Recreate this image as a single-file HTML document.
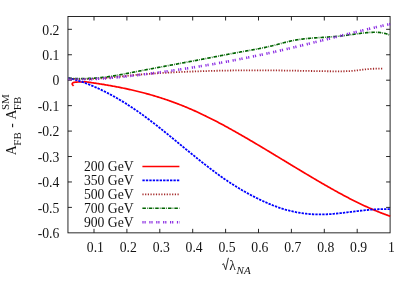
<!DOCTYPE html>
<html><head><meta charset="utf-8"><style>
html,body{margin:0;padding:0;background:#fff;overflow:hidden;}
text{opacity:0.92;}
svg{display:block;will-change:transform;font-family:"Liberation Serif",serif;font-size:13.7px;fill:#000;}
</style></head><body>
<svg xmlns="http://www.w3.org/2000/svg" width="415" height="291" viewBox="0 0 415 291">
<rect width="415" height="291" fill="#fff"/>
<rect x="67.95" y="16.5" width="322.15000000000003" height="216.35" fill="none" stroke="#111" stroke-width="0.9"/>
<path d="M94.00,232.85 v-4 M94.00,16.5 v4 M126.90,232.85 v-4 M126.90,16.5 v4 M159.80,232.85 v-4 M159.80,16.5 v4 M192.70,232.85 v-4 M192.70,16.5 v4 M225.60,232.85 v-4 M225.60,16.5 v4 M258.50,232.85 v-4 M258.50,16.5 v4 M291.40,232.85 v-4 M291.40,16.5 v4 M324.30,232.85 v-4 M324.30,16.5 v4 M357.20,232.85 v-4 M357.20,16.5 v4 M67.95,207.40 h4 M390.1,207.40 h-4 M67.95,181.96 h4 M390.1,181.96 h-4 M67.95,156.52 h4 M390.1,156.52 h-4 M67.95,131.08 h4 M390.1,131.08 h-4 M67.95,105.64 h4 M390.1,105.64 h-4 M67.95,80.20 h4 M390.1,80.20 h-4 M67.95,54.76 h4 M390.1,54.76 h-4 M67.95,29.32 h4 M390.1,29.32 h-4" stroke="#111" stroke-width="0.9" fill="none"/>
<text x="59.4" y="238.04" text-anchor="end">-0.6</text>
<text x="59.4" y="212.60" text-anchor="end">-0.5</text>
<text x="59.4" y="187.16" text-anchor="end">-0.4</text>
<text x="59.4" y="161.72" text-anchor="end">-0.3</text>
<text x="59.4" y="136.28" text-anchor="end">-0.2</text>
<text x="59.4" y="110.84" text-anchor="end">-0.1</text>
<text x="59.4" y="85.40" text-anchor="end">0</text>
<text x="59.4" y="59.96" text-anchor="end">0.1</text>
<text x="59.4" y="34.52" text-anchor="end">0.2</text>
<text x="95.40" y="251.6" text-anchor="middle">0.1</text>
<text x="128.30" y="251.6" text-anchor="middle">0.2</text>
<text x="161.20" y="251.6" text-anchor="middle">0.3</text>
<text x="194.10" y="251.6" text-anchor="middle">0.4</text>
<text x="227.00" y="251.6" text-anchor="middle">0.5</text>
<text x="259.90" y="251.6" text-anchor="middle">0.6</text>
<text x="292.80" y="251.6" text-anchor="middle">0.7</text>
<text x="325.70" y="251.6" text-anchor="middle">0.8</text>
<text x="358.60" y="251.6" text-anchor="middle">0.9</text>
<text x="391.50" y="251.6" text-anchor="middle">1</text>
<path d="M73.60,85.90 L73.39,85.65 L73.11,85.36 L72.79,85.03 L72.50,84.67 L72.28,84.29 L72.20,83.90 L72.28,83.52 L72.51,83.17 L72.83,82.88 L73.19,82.67 L73.58,82.53 L73.97,82.43 L74.38,82.35 L74.78,82.28 L75.19,82.21 L75.59,82.16 L76.00,82.12 L76.41,82.08 L76.82,82.05 L77.22,82.03 L77.63,82.01 L78.04,82.00 L78.45,81.99 L78.87,81.99 L79.28,81.98 L79.69,81.98 L80.10,81.99 L80.51,81.99 L80.92,81.99 L81.33,82.00 L81.74,82.00 L82.15,82.00 L82.56,82.00 L82.97,81.99 L83.38,81.98 L83.78,81.97 L84.19,81.95 L84.60,81.93 L85.00,81.76 L86.02,81.89 L87.04,82.03 L88.06,82.17 L89.08,82.31 L90.10,82.45 L91.12,82.60 L92.15,82.74 L93.17,82.89 L94.19,83.04 L95.21,83.19 L96.23,83.34 L97.25,83.49 L98.27,83.65 L99.29,83.81 L100.31,83.97 L101.33,84.13 L102.35,84.29 L103.37,84.46 L104.39,84.62 L105.41,84.79 L106.44,84.97 L107.46,85.14 L108.48,85.32 L109.50,85.49 L110.52,85.67 L111.54,85.86 L112.56,86.04 L113.58,86.23 L114.60,86.42 L115.62,86.61 L116.64,86.80 L117.66,87.00 L118.68,87.20 L119.71,87.40 L120.73,87.60 L121.75,87.81 L122.77,88.02 L123.79,88.23 L124.81,88.44 L125.83,88.66 L126.85,88.88 L127.87,89.10 L128.89,89.32 L129.91,89.55 L130.93,89.78 L131.95,90.01 L132.97,90.25 L134.00,90.48 L135.02,90.72 L136.04,90.97 L137.06,91.21 L138.08,91.46 L139.10,91.72 L140.12,91.97 L141.14,92.23 L142.16,92.49 L143.18,92.76 L144.20,93.03 L145.22,93.30 L146.24,93.57 L147.26,93.85 L148.29,94.13 L149.31,94.42 L150.33,94.71 L151.35,95.00 L152.37,95.29 L153.39,95.59 L154.41,95.90 L155.43,96.20 L156.45,96.51 L157.47,96.82 L158.49,97.14 L159.51,97.46 L160.53,97.79 L161.56,98.11 L162.58,98.45 L163.60,98.78 L164.62,99.12 L165.64,99.46 L166.66,99.81 L167.68,100.16 L168.70,100.52 L169.72,100.88 L170.74,101.24 L171.76,101.61 L172.78,101.98 L173.80,102.35 L174.82,102.73 L175.85,103.11 L176.87,103.49 L177.89,103.88 L178.91,104.28 L179.93,104.67 L180.95,105.08 L181.97,105.48 L182.99,105.89 L184.01,106.30 L185.03,106.72 L186.05,107.14 L187.07,107.57 L188.09,107.99 L189.12,108.43 L190.14,108.86 L191.16,109.31 L192.18,109.75 L193.20,110.20 L194.22,110.65 L195.24,111.11 L196.26,111.57 L197.28,112.03 L198.30,112.50 L199.32,112.98 L200.34,113.45 L201.36,113.93 L202.38,114.42 L203.41,114.91 L204.43,115.40 L205.45,115.89 L206.47,116.39 L207.49,116.90 L208.51,117.40 L209.53,117.91 L210.55,118.43 L211.57,118.94 L212.59,119.46 L213.61,119.98 L214.63,120.51 L215.65,121.04 L216.67,121.57 L217.70,122.11 L218.72,122.64 L219.74,123.18 L220.76,123.73 L221.78,124.27 L222.80,124.82 L223.82,125.37 L224.84,125.93 L225.86,126.48 L226.88,127.04 L227.90,127.60 L228.92,128.16 L229.94,128.73 L230.97,129.30 L231.99,129.87 L233.01,130.44 L234.03,131.01 L235.05,131.58 L236.07,132.16 L237.09,132.74 L238.11,133.32 L239.13,133.90 L240.15,134.49 L241.17,135.07 L242.19,135.66 L243.21,136.25 L244.23,136.83 L245.26,137.43 L246.28,138.02 L247.30,138.61 L248.32,139.21 L249.34,139.80 L250.36,140.40 L251.38,141.00 L252.40,141.60 L253.42,142.20 L254.44,142.81 L255.46,143.41 L256.48,144.01 L257.50,144.62 L258.53,145.23 L259.55,145.83 L260.57,146.44 L261.59,147.05 L262.61,147.66 L263.63,148.27 L264.65,148.88 L265.67,149.50 L266.69,150.11 L267.71,150.72 L268.73,151.34 L269.75,151.95 L270.77,152.57 L271.79,153.18 L272.82,153.80 L273.84,154.42 L274.86,155.03 L275.88,155.65 L276.90,156.27 L277.92,156.89 L278.94,157.50 L279.96,158.12 L280.98,158.74 L282.00,159.36 L283.02,159.98 L284.04,160.60 L285.06,161.21 L286.08,161.83 L287.11,162.45 L288.13,163.07 L289.15,163.69 L290.17,164.31 L291.19,164.92 L292.21,165.54 L293.23,166.16 L294.25,166.77 L295.27,167.39 L296.29,168.01 L297.31,168.62 L298.33,169.24 L299.35,169.85 L300.38,170.46 L301.40,171.08 L302.42,171.69 L303.44,172.30 L304.46,172.91 L305.48,173.52 L306.50,174.13 L307.52,174.74 L308.54,175.35 L309.56,175.96 L310.58,176.56 L311.60,177.17 L312.62,177.77 L313.64,178.37 L314.67,178.97 L315.69,179.58 L316.71,180.17 L317.73,180.77 L318.75,181.37 L319.77,181.96 L320.79,182.56 L321.81,183.15 L322.83,183.74 L323.85,184.33 L324.87,184.92 L325.89,185.51 L326.91,186.09 L327.94,186.67 L328.96,187.26 L329.98,187.83 L331.00,188.41 L332.02,188.99 L333.04,189.56 L334.06,190.13 L335.08,190.70 L336.10,191.27 L337.12,191.83 L338.14,192.39 L339.16,192.95 L340.18,193.51 L341.20,194.06 L342.23,194.61 L343.25,195.16 L344.27,195.70 L345.29,196.24 L346.31,196.78 L347.33,197.32 L348.35,197.85 L349.37,198.38 L350.39,198.91 L351.41,199.43 L352.43,199.95 L353.45,200.47 L354.47,200.98 L355.49,201.49 L356.52,202.00 L357.54,202.50 L358.56,203.00 L359.58,203.49 L360.60,203.98 L361.62,204.47 L362.64,204.95 L363.66,205.43 L364.68,205.90 L365.70,206.37 L366.72,206.84 L367.74,207.30 L368.76,207.75 L369.79,208.20 L370.81,208.65 L371.83,209.09 L372.85,209.53 L373.87,209.97 L374.89,210.39 L375.91,210.82 L376.93,211.24 L377.95,211.65 L378.97,212.06 L379.99,212.46 L381.01,212.86 L382.03,213.25 L383.05,213.64 L384.08,214.02 L385.10,214.39 L386.12,214.77 L387.14,215.13 L388.16,215.49 L389.18,215.84 L390.20,216.19" fill="none" stroke="#ff0000" stroke-width="1.7" stroke-linejoin="round"/>
<path d="M68.30,78.06 L69.11,78.23 L69.91,78.40 L70.72,78.58 L71.53,78.77 L72.33,78.97 L73.14,79.17 L73.95,79.39 L74.75,79.60 L75.56,79.83 L76.37,80.06 L77.17,80.30 L77.98,80.54 L78.79,80.79 L79.59,81.05 L80.40,81.31 L81.21,81.58 L82.02,81.86 L82.82,82.14 L83.63,82.42 L84.44,82.71 L85.24,83.01 L86.05,83.31 L86.86,83.62 L87.66,83.93 L88.47,84.25 L89.28,84.57 L90.08,84.90 L90.89,85.23 L91.70,85.57 L92.50,85.91 L93.31,86.25 L94.12,86.60 L94.92,86.95 L95.73,87.31 L96.54,87.67 L97.34,88.04 L98.15,88.41 L98.96,88.78 L99.76,89.16 L100.57,89.54 L101.38,89.93 L102.18,90.32 L102.99,90.71 L103.80,91.11 L104.60,91.51 L105.41,91.92 L106.22,92.33 L107.02,92.74 L107.83,93.16 L108.64,93.58 L109.45,94.01 L110.25,94.44 L111.06,94.87 L111.87,95.31 L112.67,95.75 L113.48,96.20 L114.29,96.65 L115.09,97.10 L115.90,97.56 L116.71,98.02 L117.51,98.49 L118.32,98.96 L119.13,99.43 L119.93,99.91 L120.74,100.39 L121.55,100.87 L122.35,101.36 L123.16,101.86 L123.97,102.35 L124.77,102.85 L125.58,103.36 L126.39,103.87 L127.19,104.38 L128.00,104.89 L128.81,105.41 L129.61,105.93 L130.42,106.46 L131.23,106.99 L132.03,107.53 L132.84,108.06 L133.65,108.61 L134.45,109.15 L135.26,109.70 L136.07,110.25 L136.88,110.81 L137.68,111.37 L138.49,111.93 L139.30,112.50 L140.10,113.07 L140.91,113.65 L141.72,114.23 L142.52,114.81 L143.33,115.39 L144.14,115.98 L144.94,116.57 L145.75,117.17 L146.56,117.76 L147.36,118.36 L148.17,118.97 L148.98,119.57 L149.78,120.18 L150.59,120.80 L151.40,121.41 L152.20,122.03 L153.01,122.65 L153.82,123.27 L154.62,123.89 L155.43,124.52 L156.24,125.15 L157.04,125.78 L157.85,126.42 L158.66,127.05 L159.46,127.69 L160.27,128.33 L161.08,128.97 L161.88,129.61 L162.69,130.26 L163.50,130.90 L164.31,131.55 L165.11,132.20 L165.92,132.85 L166.73,133.50 L167.53,134.15 L168.34,134.81 L169.15,135.46 L169.95,136.12 L170.76,136.78 L171.57,137.43 L172.37,138.09 L173.18,138.75 L173.99,139.41 L174.79,140.07 L175.60,140.73 L176.41,141.39 L177.21,142.06 L178.02,142.72 L178.83,143.38 L179.63,144.04 L180.44,144.71 L181.25,145.37 L182.05,146.03 L182.86,146.70 L183.67,147.36 L184.47,148.02 L185.28,148.68 L186.09,149.34 L186.89,150.00 L187.70,150.66 L188.51,151.32 L189.32,151.98 L190.12,152.64 L190.93,153.30 L191.74,153.95 L192.54,154.61 L193.35,155.26 L194.16,155.92 L194.96,156.57 L195.77,157.22 L196.58,157.87 L197.38,158.52 L198.19,159.16 L199.00,159.81 L199.80,160.45 L200.61,161.09 L201.42,161.73 L202.22,162.37 L203.03,163.01 L203.84,163.64 L204.64,164.27 L205.45,164.90 L206.26,165.53 L207.06,166.16 L207.87,166.78 L208.68,167.40 L209.48,168.02 L210.29,168.64 L211.10,169.25 L211.90,169.86 L212.71,170.47 L213.52,171.07 L214.32,171.67 L215.13,172.27 L215.94,172.87 L216.75,173.46 L217.55,174.05 L218.36,174.64 L219.17,175.22 L219.97,175.80 L220.78,176.37 L221.59,176.95 L222.39,177.51 L223.20,178.08 L224.01,178.64 L224.81,179.20 L225.62,179.75 L226.43,180.30 L227.23,180.85 L228.04,181.39 L228.85,181.92 L229.65,182.46 L230.46,182.99 L231.27,183.51 L232.07,184.03 L232.88,184.55 L233.69,185.06 L234.49,185.57 L235.30,186.08 L236.11,186.58 L236.91,187.08 L237.72,187.57 L238.53,188.06 L239.33,188.55 L240.14,189.03 L240.95,189.51 L241.75,189.98 L242.56,190.45 L243.37,190.92 L244.18,191.38 L244.98,191.84 L245.79,192.29 L246.60,192.74 L247.40,193.19 L248.21,193.63 L249.02,194.07 L249.82,194.51 L250.63,194.94 L251.44,195.37 L252.24,195.79 L253.05,196.21 L253.86,196.63 L254.66,197.04 L255.47,197.45 L256.28,197.86 L257.08,198.26 L257.89,198.66 L258.70,199.05 L259.50,199.44 L260.31,199.83 L261.12,200.22 L261.92,200.60 L262.73,200.97 L263.54,201.34 L264.34,201.71 L265.15,202.08 L265.96,202.44 L266.76,202.80 L267.57,203.15 L268.38,203.50 L269.18,203.84 L269.99,204.18 L270.80,204.51 L271.61,204.84 L272.41,205.16 L273.22,205.48 L274.03,205.79 L274.83,206.10 L275.64,206.40 L276.45,206.69 L277.25,206.98 L278.06,207.26 L278.87,207.54 L279.67,207.81 L280.48,208.08 L281.29,208.34 L282.09,208.60 L282.90,208.85 L283.71,209.09 L284.51,209.33 L285.32,209.57 L286.13,209.79 L286.93,210.02 L287.74,210.23 L288.55,210.45 L289.35,210.65 L290.16,210.85 L290.97,211.05 L291.77,211.24 L292.58,211.42 L293.39,211.60 L294.19,211.77 L295.00,211.94 L295.81,212.10 L296.62,212.26 L297.42,212.41 L298.23,212.56 L299.04,212.70 L299.84,212.83 L300.65,212.96 L301.46,213.09 L302.26,213.21 L303.07,213.32 L303.88,213.43 L304.68,213.53 L305.49,213.63 L306.30,213.72 L307.10,213.81 L307.91,213.89 L308.72,213.96 L309.52,214.03 L310.33,214.10 L311.14,214.15 L311.94,214.21 L312.75,214.26 L313.56,214.30 L314.36,214.34 L315.17,214.37 L315.98,214.39 L316.78,214.42 L317.59,214.43 L318.40,214.44 L319.20,214.45 L320.01,214.45 L320.82,214.44 L321.62,214.43 L322.43,214.42 L323.24,214.40 L324.05,214.38 L324.85,214.35 L325.66,214.32 L326.47,214.28 L327.27,214.24 L328.08,214.20 L328.89,214.15 L329.69,214.10 L330.50,214.04 L331.31,213.99 L332.11,213.92 L332.92,213.86 L333.73,213.79 L334.53,213.72 L335.34,213.65 L336.15,213.58 L336.95,213.50 L337.76,213.42 L338.57,213.34 L339.37,213.25 L340.18,213.17 L340.99,213.08 L341.79,212.99 L342.60,212.90 L343.41,212.81 L344.21,212.71 L345.02,212.62 L345.83,212.52 L346.63,212.43 L347.44,212.33 L348.25,212.23 L349.05,212.13 L349.86,212.03 L350.67,211.93 L351.48,211.83 L352.28,211.73 L353.09,211.63 L353.90,211.53 L354.70,211.43 L355.51,211.33 L356.32,211.23 L357.12,211.14 L357.93,211.04 L358.74,210.94 L359.54,210.85 L360.35,210.75 L361.16,210.66 L361.96,210.57 L362.77,210.48 L363.58,210.39 L364.38,210.31 L365.19,210.22 L366.00,210.14 L366.80,210.06 L367.61,209.98 L368.42,209.91 L369.22,209.84 L370.03,209.77 L370.84,209.70 L371.64,209.63 L372.45,209.57 L373.26,209.51 L374.06,209.46 L374.87,209.41 L375.68,209.36 L376.48,209.32 L377.29,209.28 L378.10,209.24 L378.91,209.21 L379.71,209.18 L380.52,209.16 L381.33,209.14 L382.13,209.12 L382.94,209.11 L383.75,209.11 L384.55,209.11 L385.36,209.11 L386.17,209.12 L386.97,209.14 L387.78,209.16 L388.59,209.18 L389.39,209.21 L390.20,209.25" fill="none" stroke="#0000ff" stroke-width="1.8" stroke-dasharray="2.35 1.1" stroke-linejoin="round"/>
<path d="M68.30,78.50 L69.09,78.57 L69.88,78.64 L70.67,78.70 L71.46,78.76 L72.25,78.82 L73.04,78.87 L73.83,78.92 L74.62,78.96 L75.41,79.00 L76.19,79.03 L76.98,79.06 L77.77,79.09 L78.56,79.11 L79.35,79.13 L80.14,79.14 L80.93,79.15 L81.72,79.16 L82.51,79.16 L83.30,79.16 L84.09,79.16 L84.88,79.15 L85.67,79.14 L86.46,79.13 L87.25,79.12 L88.04,79.10 L88.83,79.07 L89.62,79.05 L90.41,79.02 L91.19,78.99 L91.98,78.96 L92.77,78.92 L93.56,78.88 L94.35,78.84 L95.14,78.80 L95.93,78.75 L96.72,78.70 L97.51,78.65 L98.30,78.60 L99.09,78.54 L99.88,78.49 L100.67,78.43 L101.46,78.37 L102.25,78.31 L103.04,78.24 L103.83,78.18 L104.62,78.11 L105.41,78.04 L106.19,77.97 L106.98,77.90 L107.77,77.82 L108.56,77.75 L109.35,77.67 L110.14,77.60 L110.93,77.52 L111.72,77.44 L112.51,77.36 L113.30,77.28 L114.09,77.20 L114.88,77.12 L115.67,77.04 L116.46,76.95 L117.25,76.87 L118.04,76.79 L118.83,76.70 L119.62,76.62 L120.41,76.53 L121.19,76.45 L121.98,76.36 L122.77,76.28 L123.56,76.19 L124.35,76.11 L125.14,76.03 L125.93,75.94 L126.72,75.86 L127.51,75.77 L128.30,75.69 L129.09,75.61 L129.88,75.53 L130.67,75.45 L131.46,75.37 L132.25,75.29 L133.04,75.21 L133.83,75.13 L134.62,75.06 L135.41,74.98 L136.19,74.91 L136.98,74.84 L137.77,74.76 L138.56,74.69 L139.35,74.62 L140.14,74.55 L140.93,74.49 L141.72,74.42 L142.51,74.35 L143.30,74.29 L144.09,74.22 L144.88,74.16 L145.67,74.10 L146.46,74.04 L147.25,73.98 L148.04,73.92 L148.83,73.86 L149.62,73.80 L150.41,73.74 L151.19,73.69 L151.98,73.63 L152.77,73.57 L153.56,73.52 L154.35,73.47 L155.14,73.41 L155.93,73.36 L156.72,73.31 L157.51,73.26 L158.30,73.21 L159.09,73.16 L159.88,73.11 L160.67,73.06 L161.46,73.01 L162.25,72.97 L163.04,72.92 L163.83,72.87 L164.62,72.83 L165.41,72.78 L166.19,72.74 L166.98,72.70 L167.77,72.65 L168.56,72.61 L169.35,72.57 L170.14,72.53 L170.93,72.48 L171.72,72.44 L172.51,72.40 L173.30,72.36 L174.09,72.32 L174.88,72.28 L175.67,72.24 L176.46,72.20 L177.25,72.17 L178.04,72.13 L178.83,72.09 L179.62,72.05 L180.41,72.02 L181.19,71.98 L181.98,71.94 L182.77,71.91 L183.56,71.87 L184.35,71.84 L185.14,71.81 L185.93,71.77 L186.72,71.74 L187.51,71.71 L188.30,71.67 L189.09,71.64 L189.88,71.61 L190.67,71.58 L191.46,71.55 L192.25,71.52 L193.04,71.49 L193.83,71.46 L194.62,71.43 L195.41,71.40 L196.19,71.37 L196.98,71.34 L197.77,71.31 L198.56,71.29 L199.35,71.26 L200.14,71.23 L200.93,71.21 L201.72,71.18 L202.51,71.16 L203.30,71.13 L204.09,71.11 L204.88,71.08 L205.67,71.06 L206.46,71.04 L207.25,71.01 L208.04,70.99 L208.83,70.97 L209.62,70.95 L210.41,70.93 L211.19,70.90 L211.98,70.88 L212.77,70.86 L213.56,70.84 L214.35,70.82 L215.14,70.81 L215.93,70.79 L216.72,70.77 L217.51,70.75 L218.30,70.73 L219.09,70.72 L219.88,70.70 L220.67,70.68 L221.46,70.67 L222.25,70.65 L223.04,70.64 L223.83,70.62 L224.62,70.61 L225.41,70.59 L226.19,70.58 L226.98,70.57 L227.77,70.55 L228.56,70.54 L229.35,70.53 L230.14,70.52 L230.93,70.50 L231.72,70.49 L232.51,70.48 L233.30,70.47 L234.09,70.46 L234.88,70.45 L235.67,70.44 L236.46,70.43 L237.25,70.43 L238.04,70.42 L238.83,70.41 L239.62,70.40 L240.41,70.39 L241.19,70.39 L241.98,70.38 L242.77,70.38 L243.56,70.37 L244.35,70.36 L245.14,70.36 L245.93,70.35 L246.72,70.35 L247.51,70.35 L248.30,70.34 L249.09,70.34 L249.88,70.34 L250.67,70.33 L251.46,70.33 L252.25,70.33 L253.04,70.33 L253.83,70.33 L254.62,70.33 L255.41,70.33 L256.19,70.33 L256.98,70.33 L257.77,70.33 L258.56,70.33 L259.35,70.33 L260.14,70.33 L260.93,70.33 L261.72,70.33 L262.51,70.34 L263.30,70.34 L264.09,70.34 L264.88,70.35 L265.67,70.35 L266.46,70.35 L267.25,70.36 L268.04,70.36 L268.83,70.37 L269.62,70.38 L270.41,70.38 L271.19,70.39 L271.98,70.39 L272.77,70.40 L273.56,70.41 L274.35,70.42 L275.14,70.42 L275.93,70.43 L276.72,70.44 L277.51,70.45 L278.30,70.46 L279.09,70.47 L279.88,70.48 L280.67,70.49 L281.46,70.50 L282.25,70.51 L283.04,70.52 L283.83,70.53 L284.62,70.54 L285.41,70.55 L286.19,70.56 L286.98,70.57 L287.77,70.59 L288.56,70.60 L289.35,70.61 L290.14,70.62 L290.93,70.64 L291.72,70.65 L292.51,70.66 L293.30,70.67 L294.09,70.69 L294.88,70.70 L295.67,70.71 L296.46,70.73 L297.25,70.74 L298.04,70.76 L298.83,70.77 L299.62,70.78 L300.41,70.80 L301.19,70.81 L301.98,70.82 L302.77,70.84 L303.56,70.85 L304.35,70.87 L305.14,70.88 L305.93,70.89 L306.72,70.91 L307.51,70.92 L308.30,70.93 L309.09,70.95 L309.88,70.96 L310.67,70.98 L311.46,70.99 L312.25,71.00 L313.04,71.02 L313.83,71.03 L314.62,71.04 L315.41,71.06 L316.19,71.07 L316.98,71.08 L317.77,71.10 L318.56,71.11 L319.35,71.12 L320.14,71.13 L320.93,71.14 L321.72,71.16 L322.51,71.17 L323.30,71.18 L324.09,71.19 L324.88,71.20 L325.67,71.21 L326.46,71.22 L327.25,71.24 L328.04,71.25 L328.83,71.26 L329.62,71.27 L330.41,71.27 L331.19,71.28 L331.98,71.29 L332.77,71.30 L333.56,71.31 L334.35,71.31 L335.14,71.32 L335.93,71.32 L336.72,71.33 L337.51,71.33 L338.30,71.33 L339.09,71.33 L339.88,71.32 L340.67,71.32 L341.46,71.31 L342.25,71.30 L343.04,71.28 L343.83,71.27 L344.62,71.25 L345.41,71.23 L346.19,71.21 L346.98,71.18 L347.77,71.15 L348.56,71.12 L349.35,71.08 L350.14,71.04 L350.93,70.99 L351.72,70.94 L352.51,70.87 L353.30,70.81 L354.09,70.73 L354.88,70.65 L355.67,70.56 L356.46,70.47 L357.25,70.37 L358.04,70.27 L358.83,70.17 L359.62,70.07 L360.41,69.97 L361.19,69.86 L361.98,69.76 L362.77,69.66 L363.56,69.57 L364.35,69.48 L365.14,69.39 L365.93,69.31 L366.72,69.23 L367.51,69.15 L368.30,69.08 L369.09,69.01 L369.88,68.95 L370.67,68.90 L371.46,68.85 L372.25,68.80 L373.04,68.76 L373.83,68.73 L374.62,68.70 L375.41,68.67 L376.19,68.66 L376.98,68.65 L377.77,68.64 L378.56,68.64 L379.35,68.65 L380.14,68.66 L380.93,68.67 L381.72,68.69 L382.51,68.71 L383.30,68.73" fill="none" stroke="#a52a2a" stroke-width="1.8" stroke-dasharray="1.2 1.5" stroke-linejoin="round"/>
<path d="M68.30,78.27 L69.11,78.32 L69.91,78.35 L70.72,78.39 L71.53,78.42 L72.33,78.45 L73.14,78.48 L73.95,78.50 L74.75,78.52 L75.56,78.54 L76.37,78.56 L77.17,78.57 L77.98,78.58 L78.79,78.59 L79.59,78.59 L80.40,78.60 L81.21,78.59 L82.02,78.59 L82.82,78.58 L83.63,78.57 L84.44,78.56 L85.24,78.54 L86.05,78.52 L86.86,78.50 L87.66,78.47 L88.47,78.44 L89.28,78.41 L90.08,78.37 L90.89,78.33 L91.70,78.29 L92.50,78.25 L93.31,78.20 L94.12,78.14 L94.92,78.09 L95.73,78.03 L96.54,77.97 L97.34,77.90 L98.15,77.83 L98.96,77.76 L99.76,77.68 L100.57,77.61 L101.38,77.52 L102.18,77.44 L102.99,77.35 L103.80,77.25 L104.60,77.16 L105.41,77.05 L106.22,76.95 L107.02,76.84 L107.83,76.73 L108.64,76.62 L109.45,76.50 L110.25,76.38 L111.06,76.26 L111.87,76.14 L112.67,76.01 L113.48,75.88 L114.29,75.75 L115.09,75.61 L115.90,75.48 L116.71,75.34 L117.51,75.20 L118.32,75.05 L119.13,74.91 L119.93,74.76 L120.74,74.62 L121.55,74.47 L122.35,74.32 L123.16,74.17 L123.97,74.01 L124.77,73.86 L125.58,73.71 L126.39,73.55 L127.19,73.40 L128.00,73.24 L128.81,73.08 L129.61,72.93 L130.42,72.77 L131.23,72.61 L132.03,72.45 L132.84,72.30 L133.65,72.14 L134.45,71.98 L135.26,71.82 L136.07,71.67 L136.88,71.51 L137.68,71.36 L138.49,71.20 L139.30,71.04 L140.10,70.89 L140.91,70.73 L141.72,70.58 L142.52,70.43 L143.33,70.27 L144.14,70.12 L144.94,69.96 L145.75,69.81 L146.56,69.66 L147.36,69.51 L148.17,69.35 L148.98,69.20 L149.78,69.05 L150.59,68.90 L151.40,68.74 L152.20,68.59 L153.01,68.44 L153.82,68.29 L154.62,68.14 L155.43,67.99 L156.24,67.83 L157.04,67.68 L157.85,67.53 L158.66,67.38 L159.46,67.23 L160.27,67.08 L161.08,66.93 L161.88,66.78 L162.69,66.63 L163.50,66.48 L164.31,66.33 L165.11,66.18 L165.92,66.03 L166.73,65.88 L167.53,65.73 L168.34,65.58 L169.15,65.43 L169.95,65.28 L170.76,65.13 L171.57,64.98 L172.37,64.83 L173.18,64.68 L173.99,64.53 L174.79,64.38 L175.60,64.23 L176.41,64.08 L177.21,63.94 L178.02,63.79 L178.83,63.64 L179.63,63.49 L180.44,63.34 L181.25,63.19 L182.05,63.04 L182.86,62.89 L183.67,62.74 L184.47,62.59 L185.28,62.43 L186.09,62.28 L186.89,62.13 L187.70,61.98 L188.51,61.83 L189.32,61.68 L190.12,61.53 L190.93,61.38 L191.74,61.23 L192.54,61.08 L193.35,60.92 L194.16,60.77 L194.96,60.62 L195.77,60.47 L196.58,60.32 L197.38,60.16 L198.19,60.01 L199.00,59.86 L199.80,59.70 L200.61,59.55 L201.42,59.40 L202.22,59.24 L203.03,59.09 L203.84,58.93 L204.64,58.78 L205.45,58.62 L206.26,58.47 L207.06,58.31 L207.87,58.16 L208.68,58.00 L209.48,57.85 L210.29,57.69 L211.10,57.54 L211.90,57.38 L212.71,57.22 L213.52,57.07 L214.32,56.91 L215.13,56.76 L215.94,56.60 L216.75,56.44 L217.55,56.29 L218.36,56.13 L219.17,55.98 L219.97,55.82 L220.78,55.67 L221.59,55.51 L222.39,55.36 L223.20,55.20 L224.01,55.05 L224.81,54.90 L225.62,54.74 L226.43,54.59 L227.23,54.44 L228.04,54.28 L228.85,54.13 L229.65,53.98 L230.46,53.83 L231.27,53.68 L232.07,53.53 L232.88,53.38 L233.69,53.23 L234.49,53.08 L235.30,52.93 L236.11,52.78 L236.91,52.64 L237.72,52.49 L238.53,52.35 L239.33,52.20 L240.14,52.06 L240.95,51.91 L241.75,51.77 L242.56,51.63 L243.37,51.49 L244.18,51.34 L244.98,51.20 L245.79,51.06 L246.60,50.92 L247.40,50.78 L248.21,50.63 L249.02,50.49 L249.82,50.35 L250.63,50.20 L251.44,50.06 L252.24,49.91 L253.05,49.76 L253.86,49.62 L254.66,49.47 L255.47,49.32 L256.28,49.17 L257.08,49.02 L257.89,48.86 L258.70,48.71 L259.50,48.55 L260.31,48.39 L261.12,48.23 L261.92,48.07 L262.73,47.90 L263.54,47.74 L264.34,47.57 L265.15,47.40 L265.96,47.22 L266.76,47.04 L267.57,46.87 L268.38,46.68 L269.18,46.50 L269.99,46.31 L270.80,46.12 L271.61,45.93 L272.41,45.73 L273.22,45.53 L274.03,45.33 L274.83,45.12 L275.64,44.91 L276.45,44.70 L277.25,44.48 L278.06,44.27 L278.87,44.05 L279.67,43.83 L280.48,43.61 L281.29,43.40 L282.09,43.18 L282.90,42.96 L283.71,42.75 L284.51,42.54 L285.32,42.33 L286.13,42.12 L286.93,41.92 L287.74,41.72 L288.55,41.53 L289.35,41.34 L290.16,41.15 L290.97,40.98 L291.77,40.81 L292.58,40.64 L293.39,40.48 L294.19,40.33 L295.00,40.18 L295.81,40.04 L296.62,39.90 L297.42,39.77 L298.23,39.64 L299.04,39.52 L299.84,39.41 L300.65,39.29 L301.46,39.19 L302.26,39.08 L303.07,38.98 L303.88,38.89 L304.68,38.80 L305.49,38.71 L306.30,38.63 L307.10,38.54 L307.91,38.47 L308.72,38.39 L309.52,38.32 L310.33,38.25 L311.14,38.18 L311.94,38.12 L312.75,38.05 L313.56,37.99 L314.36,37.93 L315.17,37.88 L315.98,37.82 L316.78,37.77 L317.59,37.71 L318.40,37.66 L319.20,37.61 L320.01,37.56 L320.82,37.51 L321.62,37.46 L322.43,37.41 L323.24,37.36 L324.05,37.31 L324.85,37.26 L325.66,37.21 L326.47,37.16 L327.27,37.11 L328.08,37.05 L328.89,37.00 L329.69,36.94 L330.50,36.89 L331.31,36.83 L332.11,36.77 L332.92,36.71 L333.73,36.64 L334.53,36.58 L335.34,36.51 L336.15,36.44 L336.95,36.36 L337.76,36.29 L338.57,36.21 L339.37,36.13 L340.18,36.04 L340.99,35.95 L341.79,35.86 L342.60,35.76 L343.41,35.66 L344.21,35.56 L345.02,35.46 L345.83,35.35 L346.63,35.25 L347.44,35.14 L348.25,35.03 L349.05,34.92 L349.86,34.81 L350.67,34.69 L351.48,34.58 L352.28,34.47 L353.09,34.35 L353.90,34.24 L354.70,34.13 L355.51,34.02 L356.32,33.91 L357.12,33.80 L357.93,33.69 L358.74,33.59 L359.54,33.48 L360.35,33.38 L361.16,33.28 L361.96,33.19 L362.77,33.10 L363.58,33.01 L364.38,32.92 L365.19,32.84 L366.00,32.76 L366.80,32.68 L367.61,32.61 L368.42,32.55 L369.22,32.49 L370.03,32.43 L370.84,32.38 L371.64,32.34 L372.45,32.31 L373.26,32.29 L374.06,32.27 L374.87,32.27 L375.68,32.28 L376.48,32.30 L377.29,32.33 L378.10,32.38 L378.91,32.44 L379.71,32.52 L380.52,32.61 L381.33,32.72 L382.13,32.85 L382.94,33.00 L383.75,33.16 L384.55,33.35 L385.36,33.55 L386.17,33.78 L386.97,34.03 L387.78,34.31 L388.59,34.60 L389.39,34.93 L390.20,35.27" fill="none" stroke="#006400" stroke-width="1.65" stroke-dasharray="3.5 1.1 0.7 1.1" stroke-linejoin="round"/>
<path d="M68.30,78.97 L69.11,79.01 L69.91,79.05 L70.72,79.08 L71.53,79.12 L72.33,79.15 L73.14,79.18 L73.95,79.20 L74.75,79.22 L75.56,79.24 L76.37,79.26 L77.17,79.27 L77.98,79.29 L78.79,79.29 L79.59,79.30 L80.40,79.30 L81.21,79.31 L82.02,79.30 L82.82,79.30 L83.63,79.29 L84.44,79.28 L85.24,79.27 L86.05,79.26 L86.86,79.24 L87.66,79.23 L88.47,79.21 L89.28,79.18 L90.08,79.16 L90.89,79.13 L91.70,79.10 L92.50,79.07 L93.31,79.04 L94.12,79.00 L94.92,78.97 L95.73,78.93 L96.54,78.89 L97.34,78.85 L98.15,78.80 L98.96,78.76 L99.76,78.71 L100.57,78.66 L101.38,78.61 L102.18,78.56 L102.99,78.50 L103.80,78.45 L104.60,78.39 L105.41,78.33 L106.22,78.27 L107.02,78.21 L107.83,78.15 L108.64,78.08 L109.45,78.02 L110.25,77.95 L111.06,77.88 L111.87,77.81 L112.67,77.74 L113.48,77.67 L114.29,77.59 L115.09,77.52 L115.90,77.44 L116.71,77.37 L117.51,77.29 L118.32,77.21 L119.13,77.13 L119.93,77.05 L120.74,76.97 L121.55,76.89 L122.35,76.80 L123.16,76.72 L123.97,76.63 L124.77,76.55 L125.58,76.46 L126.39,76.37 L127.19,76.29 L128.00,76.20 L128.81,76.11 L129.61,76.02 L130.42,75.93 L131.23,75.83 L132.03,75.74 L132.84,75.65 L133.65,75.56 L134.45,75.46 L135.26,75.37 L136.07,75.28 L136.88,75.18 L137.68,75.09 L138.49,74.99 L139.30,74.89 L140.10,74.80 L140.91,74.70 L141.72,74.60 L142.52,74.51 L143.33,74.41 L144.14,74.31 L144.94,74.21 L145.75,74.11 L146.56,74.01 L147.36,73.91 L148.17,73.81 L148.98,73.71 L149.78,73.60 L150.59,73.50 L151.40,73.40 L152.20,73.29 L153.01,73.19 L153.82,73.09 L154.62,72.98 L155.43,72.88 L156.24,72.77 L157.04,72.66 L157.85,72.56 L158.66,72.45 L159.46,72.34 L160.27,72.23 L161.08,72.13 L161.88,72.02 L162.69,71.91 L163.50,71.80 L164.31,71.69 L165.11,71.58 L165.92,71.46 L166.73,71.35 L167.53,71.24 L168.34,71.13 L169.15,71.01 L169.95,70.90 L170.76,70.79 L171.57,70.67 L172.37,70.56 L173.18,70.44 L173.99,70.32 L174.79,70.21 L175.60,70.09 L176.41,69.97 L177.21,69.85 L178.02,69.73 L178.83,69.62 L179.63,69.50 L180.44,69.38 L181.25,69.26 L182.05,69.13 L182.86,69.01 L183.67,68.89 L184.47,68.77 L185.28,68.64 L186.09,68.52 L186.89,68.40 L187.70,68.27 L188.51,68.15 L189.32,68.02 L190.12,67.90 L190.93,67.77 L191.74,67.64 L192.54,67.51 L193.35,67.39 L194.16,67.26 L194.96,67.13 L195.77,67.00 L196.58,66.87 L197.38,66.74 L198.19,66.61 L199.00,66.48 L199.80,66.34 L200.61,66.21 L201.42,66.08 L202.22,65.94 L203.03,65.81 L203.84,65.68 L204.64,65.54 L205.45,65.41 L206.26,65.27 L207.06,65.13 L207.87,65.00 L208.68,64.86 L209.48,64.72 L210.29,64.58 L211.10,64.44 L211.90,64.30 L212.71,64.16 L213.52,64.02 L214.32,63.88 L215.13,63.74 L215.94,63.60 L216.75,63.45 L217.55,63.31 L218.36,63.17 L219.17,63.02 L219.97,62.88 L220.78,62.73 L221.59,62.59 L222.39,62.44 L223.20,62.29 L224.01,62.14 L224.81,62.00 L225.62,61.85 L226.43,61.70 L227.23,61.55 L228.04,61.40 L228.85,61.25 L229.65,61.10 L230.46,60.95 L231.27,60.79 L232.07,60.64 L232.88,60.49 L233.69,60.33 L234.49,60.18 L235.30,60.02 L236.11,59.87 L236.91,59.71 L237.72,59.56 L238.53,59.40 L239.33,59.24 L240.14,59.08 L240.95,58.93 L241.75,58.77 L242.56,58.61 L243.37,58.45 L244.18,58.29 L244.98,58.12 L245.79,57.96 L246.60,57.80 L247.40,57.64 L248.21,57.47 L249.02,57.31 L249.82,57.14 L250.63,56.98 L251.44,56.81 L252.24,56.65 L253.05,56.48 L253.86,56.31 L254.66,56.15 L255.47,55.98 L256.28,55.81 L257.08,55.64 L257.89,55.47 L258.70,55.30 L259.50,55.13 L260.31,54.96 L261.12,54.78 L261.92,54.61 L262.73,54.44 L263.54,54.26 L264.34,54.09 L265.15,53.91 L265.96,53.74 L266.76,53.56 L267.57,53.39 L268.38,53.21 L269.18,53.03 L269.99,52.85 L270.80,52.67 L271.61,52.49 L272.41,52.31 L273.22,52.13 L274.03,51.95 L274.83,51.77 L275.64,51.59 L276.45,51.40 L277.25,51.22 L278.06,51.04 L278.87,50.85 L279.67,50.67 L280.48,50.48 L281.29,50.30 L282.09,50.11 L282.90,49.92 L283.71,49.74 L284.51,49.55 L285.32,49.36 L286.13,49.17 L286.93,48.98 L287.74,48.79 L288.55,48.60 L289.35,48.41 L290.16,48.22 L290.97,48.03 L291.77,47.84 L292.58,47.65 L293.39,47.45 L294.19,47.26 L295.00,47.07 L295.81,46.87 L296.62,46.68 L297.42,46.48 L298.23,46.29 L299.04,46.10 L299.84,45.90 L300.65,45.70 L301.46,45.51 L302.26,45.31 L303.07,45.12 L303.88,44.92 L304.68,44.72 L305.49,44.53 L306.30,44.33 L307.10,44.13 L307.91,43.93 L308.72,43.73 L309.52,43.54 L310.33,43.34 L311.14,43.14 L311.94,42.94 L312.75,42.74 L313.56,42.54 L314.36,42.34 L315.17,42.14 L315.98,41.94 L316.78,41.74 L317.59,41.54 L318.40,41.34 L319.20,41.14 L320.01,40.94 L320.82,40.74 L321.62,40.54 L322.43,40.34 L323.24,40.14 L324.05,39.94 L324.85,39.74 L325.66,39.54 L326.47,39.33 L327.27,39.13 L328.08,38.93 L328.89,38.73 L329.69,38.53 L330.50,38.33 L331.31,38.13 L332.11,37.93 L332.92,37.72 L333.73,37.52 L334.53,37.32 L335.34,37.12 L336.15,36.92 L336.95,36.72 L337.76,36.52 L338.57,36.32 L339.37,36.12 L340.18,35.92 L340.99,35.72 L341.79,35.52 L342.60,35.32 L343.41,35.12 L344.21,34.92 L345.02,34.72 L345.83,34.52 L346.63,34.32 L347.44,34.12 L348.25,33.92 L349.05,33.72 L349.86,33.52 L350.67,33.32 L351.48,33.12 L352.28,32.92 L353.09,32.73 L353.90,32.53 L354.70,32.33 L355.51,32.13 L356.32,31.94 L357.12,31.74 L357.93,31.54 L358.74,31.35 L359.54,31.15 L360.35,30.95 L361.16,30.76 L361.96,30.56 L362.77,30.37 L363.58,30.17 L364.38,29.98 L365.19,29.79 L366.00,29.59 L366.80,29.40 L367.61,29.21 L368.42,29.01 L369.22,28.82 L370.03,28.63 L370.84,28.44 L371.64,28.25 L372.45,28.06 L373.26,27.87 L374.06,27.68 L374.87,27.49 L375.68,27.30 L376.48,27.11 L377.29,26.92 L378.10,26.74 L378.91,26.55 L379.71,26.36 L380.52,26.18 L381.33,25.99 L382.13,25.81 L382.94,25.62 L383.75,25.44 L384.55,25.26 L385.36,25.07 L386.17,24.89 L386.97,24.71 L387.78,24.53 L388.59,24.35 L389.39,24.17 L390.20,23.99" fill="none" stroke="#8a2be2" stroke-width="2.6" stroke-dasharray="1.2 0.9 1.2 3.6" stroke-linejoin="round"/>
<path d="M142.4,166.50 H179.4" stroke="#ff0000" stroke-width="1.7" fill="none"/>
<text x="133.7" y="171.20" text-anchor="end">200 GeV</text>
<path d="M142.4,180.42 H179.4" stroke="#0000ff" stroke-width="1.8" stroke-dasharray="2.35 1.1" fill="none"/>
<text x="133.7" y="185.07" text-anchor="end">350 GeV</text>
<path d="M142.4,194.34 H179.4" stroke="#a52a2a" stroke-width="1.8" stroke-dasharray="1.2 1.5" fill="none"/>
<text x="133.7" y="198.94" text-anchor="end">500 GeV</text>
<path d="M142.4,208.26 H179.4" stroke="#006400" stroke-width="1.65" stroke-dasharray="3.5 1.1 0.7 1.1" fill="none"/>
<text x="133.7" y="212.81" text-anchor="end">700 GeV</text>
<path d="M142.4,222.18 H179.4" stroke="#8a2be2" stroke-width="2.6" stroke-dasharray="1.2 0.9 1.2 3.6" fill="none"/>
<text x="133.7" y="226.68" text-anchor="end">900 GeV</text>
<g transform="translate(15.8,155.3) rotate(-90)"><text x="0" y="0">A</text><text x="9.6" y="4.9" font-size="11">FB</text><text x="27.6" y="0">-</text><text x="35.8" y="0">A</text><text x="45.1" y="4.9" font-size="11">FB</text><text x="45.3" y="-6.7" font-size="11">SM</text></g>
<path d="M222.2,264.6 l1.3,-0.9 l2.2,6 l2.6,-11.6 h0.5" fill="none" stroke="#000" stroke-width="0.8"/>
<text x="229.3" y="270.4">λ</text><text x="236.6" y="274.3" font-size="11" font-style="italic">NA</text>
</svg></body></html>
